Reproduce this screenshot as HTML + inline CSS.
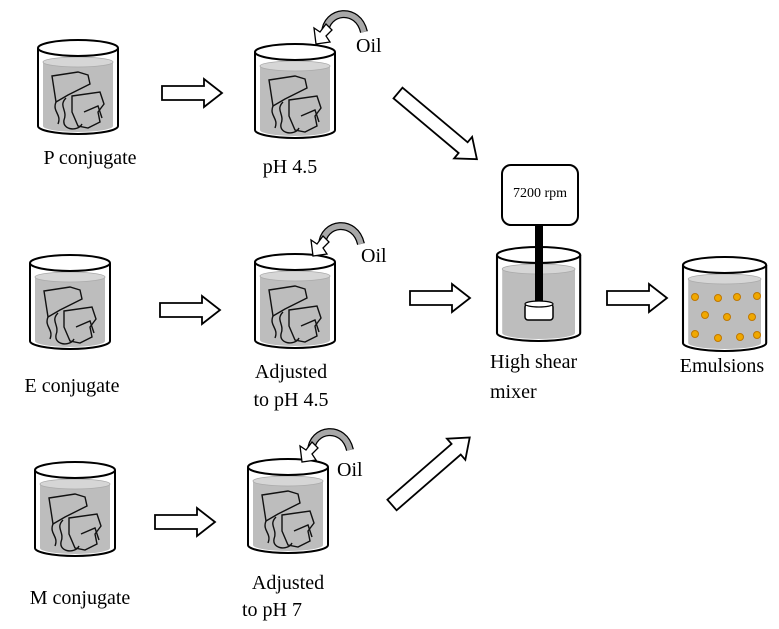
<!DOCTYPE html>
<html><head><meta charset="utf-8"><style>
html,body{margin:0;padding:0;background:#fff}
svg{display:block}
text{font-family:"Liberation Serif",serif;fill:#000}
</style></head><body>
<svg width="779" height="629" viewBox="0 0 779 629" xmlns="http://www.w3.org/2000/svg">
<defs>
<g id="bk">
  <path d="M5 22 L5 86 A35 6 0 0 0 75 86 L75 22 Z" fill="#bdbdbd"/>
  <ellipse cx="40" cy="22" rx="35" ry="5" fill="#d6d6d6" stroke="#aaa" stroke-width="0.8"/>
  <path d="M0 8 L0 86 A40 8 0 0 0 80 86 L80 8" fill="none" stroke="#000" stroke-width="2"/>
  <ellipse cx="40" cy="8" rx="40" ry="8" fill="#fff" stroke="#000" stroke-width="2"/>
</g>
<g id="sc" fill="none" stroke="#111" stroke-width="1.4">
  <path d="M14 36 L40 32 L50 35 L52 44 L44 48 L30 55 L18 62 L14 36 Z"/>
  <path d="M34 56 L62 52 L66 64 L60 72 L62 82 L50 88 L40 86 L34 72 Z"/>
  <path d="M18 62 C14 72 24 74 20 84"/>
  <path d="M28 58 C20 66 30 70 26 80 C24 90 40 92 44 84"/>
  <path d="M46 72 L60 66 L64 78"/>
</g>
<path id="ar" d="M0 -7 L42 -7 L42 -14 L60 0 L42 14 L42 7 L0 7 Z" fill="#fff" stroke="#000" stroke-width="1.8"/>
<path id="ar2" d="M0 -7 L85 -7 L85 -14 L103 0 L85 14 L85 7 L0 7 Z" fill="#fff" stroke="#000" stroke-width="1.8"/>
<g id="oil">
  <path d="M9 -11 C10 -34 42 -38 48 -12" fill="none" stroke="#000" stroke-width="8"/>
  <path d="M9 -11 C10 -34 42 -38 48 -12" fill="none" stroke="#a8a8a8" stroke-width="5.5"/>
  <path d="M0 0 L-2 -16 L4 -12 L10 -20 L16 -14 L10 -8 L14 -2 Z" fill="#fff" stroke="#000" stroke-width="1.3"/>
</g>
</defs>

<!-- Row 1 -->
<use href="#bk" x="38" y="40"/><use href="#sc" x="38" y="40"/>
<text x="90" y="164" font-size="20" text-anchor="middle">P conjugate</text>
<use href="#ar" x="162" y="93"/>
<use href="#bk" x="255" y="44"/><use href="#sc" x="255" y="44"/>
<use href="#oil" x="316" y="44"/>
<text x="356" y="52" font-size="20">Oil</text>
<text x="290" y="173" font-size="20" text-anchor="middle">pH 4.5</text>
<use href="#ar2" transform="translate(398 93) rotate(40)"/>

<!-- Row 2 -->
<use href="#bk" x="30" y="255"/><use href="#sc" x="30" y="255"/>
<text x="72" y="392" font-size="20" text-anchor="middle">E conjugate</text>
<use href="#ar" x="160" y="310"/>
<use href="#bk" x="255" y="254"/><use href="#sc" x="255" y="254"/>
<use href="#oil" x="313" y="256"/>
<text x="361" y="262" font-size="20">Oil</text>
<text x="291" y="378" font-size="20" text-anchor="middle">Adjusted</text>
<text x="291" y="406" font-size="20" text-anchor="middle">to pH 4.5</text>
<use href="#ar" x="410" y="298"/>

<!-- Row 3 -->
<use href="#bk" x="35" y="462"/><use href="#sc" x="35" y="462"/>
<text x="80" y="604" font-size="20" text-anchor="middle">M conjugate</text>
<use href="#ar" x="155" y="522"/>
<use href="#bk" x="248" y="459"/><use href="#sc" x="248" y="459"/>
<use href="#oil" x="302" y="462"/>
<text x="337" y="476" font-size="20">Oil</text>
<text x="288" y="589" font-size="20" text-anchor="middle">Adjusted</text>
<text x="242" y="616" font-size="20">to pH 7</text>
<use href="#ar2" transform="translate(392 505) rotate(-41)"/>

<!-- Mixer -->
<rect x="502" y="165" width="76" height="60" rx="9" fill="#fff" stroke="#000" stroke-width="2"/>
<text x="540" y="197" font-size="14" text-anchor="middle">7200 rpm</text>
<use href="#bk" transform="translate(497 247) scale(1.04 1.0)"/>
<rect x="535" y="225" width="8" height="85" fill="#000"/>
<rect x="525" y="304" width="28" height="16" rx="3" fill="#fff" stroke="#000" stroke-width="1.5"/>
<ellipse cx="539" cy="304" rx="14" ry="3" fill="#fff" stroke="#000" stroke-width="1.2"/>
<text x="490" y="368" font-size="20">High  shear</text>
<text x="490" y="398" font-size="20">mixer</text>
<use href="#ar" x="607" y="298"/>

<!-- Emulsion -->
<use href="#bk" transform="translate(683 257) scale(1.04 1.0)"/>
<g fill="#f0a800" stroke="#c07800" stroke-width="1">
<circle cx="695" cy="297" r="3.5"/><circle cx="718" cy="298" r="3.5"/><circle cx="737" cy="297" r="3.5"/><circle cx="757" cy="296" r="3.5"/>
<circle cx="705" cy="315" r="3.5"/><circle cx="727" cy="317" r="3.5"/><circle cx="752" cy="317" r="3.5"/>
<circle cx="695" cy="334" r="3.5"/><circle cx="718" cy="338" r="3.5"/><circle cx="740" cy="337" r="3.5"/><circle cx="757" cy="335" r="3.5"/>
</g>
<text x="722" y="372" font-size="20" text-anchor="middle">Emulsions</text>
</svg>
</body></html>
